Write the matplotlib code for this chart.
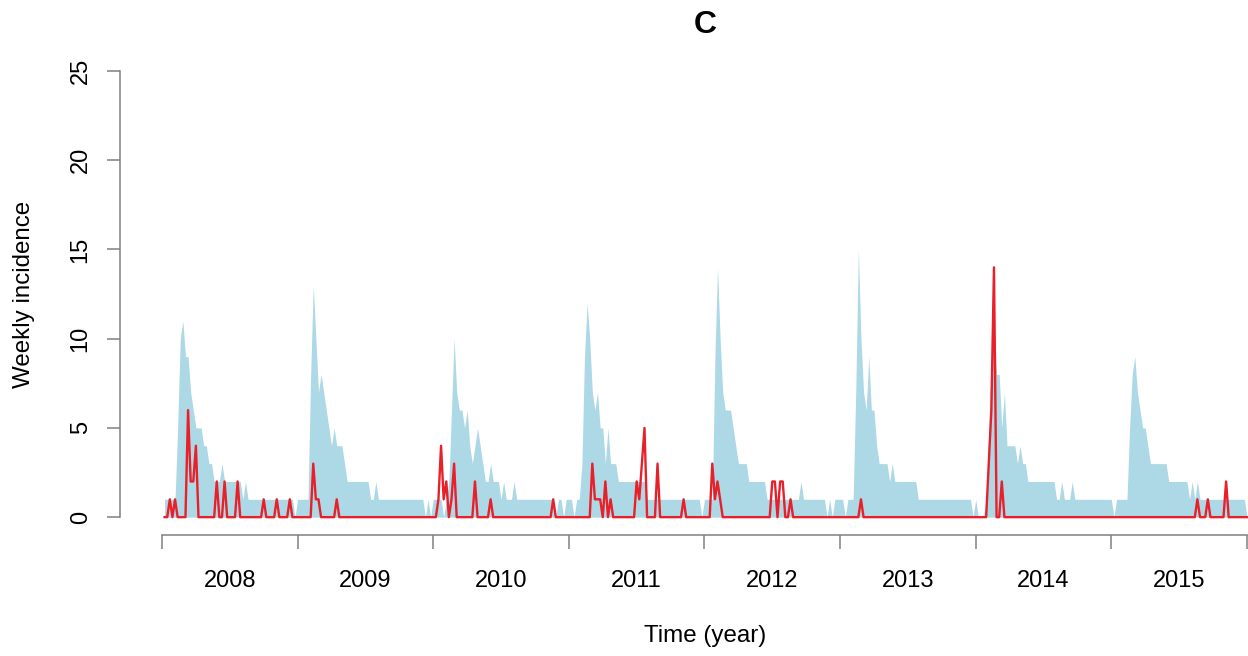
import numpy as np
import matplotlib
matplotlib.use("Agg")
import matplotlib.pyplot as plt

plt.rcParams['font.family'] = ['Liberation Sans', 'DejaVu Sans']

years = ['2008', '2009', '2010', '2011', '2012', '2013', '2014', '2015']

# upper bound of the band (light blue), one value per week
blue_2008 = [1, 1, 1, 1, 1, 5, 10, 11, 9, 9, 7, 6, 5, 5, 5, 4, 4, 3, 3, 2,
             2, 2, 3, 2, 2, 2, 2, 2, 2, 2, 1, 2, 1, 1, 1, 1, 1, 1, 1, 1,
             1, 1, 1, 1, 1, 1, 1, 1, 1, 1, 0, 1]
blue_2009 = [1, 1, 1, 1, 8, 13, 10, 7, 8, 7, 6, 5, 4, 5, 4, 4, 4, 3, 2, 2,
             2, 2, 2, 2, 2, 2, 2, 1, 1, 2, 1, 1, 1, 1, 1, 1, 1, 1, 1, 1,
             1, 1, 1, 1, 1, 1, 1, 1, 0, 1, 0, 1]
blue_2010 = [1, 1, 1, 0, 1, 2, 6, 10, 7, 6, 6, 5, 6, 4, 3, 4, 5, 4, 3, 2,
             2, 3, 2, 2, 2, 1, 2, 1, 1, 1, 2, 1, 1, 1, 1, 1, 1, 1, 1, 1,
             1, 1, 1, 1, 1, 1, 0, 1, 1, 0, 1, 1]
blue_2011 = [1, 0, 1, 1, 3, 9, 12, 10, 7, 6, 7, 5, 5, 3, 5, 3, 3, 3, 2, 2,
             2, 2, 2, 2, 2, 2, 2, 2, 2, 1, 1, 1, 1, 1, 1, 1, 1, 1, 1, 1,
             1, 1, 1, 1, 1, 1, 1, 1, 1, 1, 0, 1]
blue_2012 = [1, 1, 1, 9, 14, 10, 7, 6, 6, 6, 5, 4, 3, 3, 3, 3, 2, 2, 2, 2,
             2, 2, 2, 1, 1, 1, 1, 1, 1, 1, 1, 1, 1, 1, 1, 1, 2, 1, 1, 1,
             1, 1, 1, 1, 1, 1, 0, 1, 0, 1, 1, 1]
blue_2013 = [1, 0, 1, 1, 1, 7, 15, 10, 7, 6, 9, 6, 6, 4, 3, 3, 3, 3, 2, 3,
             2, 2, 2, 2, 2, 2, 2, 2, 2, 1, 1, 1, 1, 1, 1, 1, 1, 1, 1, 1,
             1, 1, 1, 1, 1, 1, 1, 1, 1, 1, 0, 1]
blue_2014 = [0, 0, 0, 1, 5, 9, 11, 8, 8, 5, 7, 4, 4, 4, 4, 3, 4, 3, 3, 2,
             2, 2, 2, 2, 2, 2, 2, 2, 2, 2, 1, 1, 2, 1, 1, 1, 2, 1, 1, 1,
             1, 1, 1, 1, 1, 1, 1, 1, 1, 1, 1, 1]
blue_2015 = [0, 1, 1, 1, 1, 1, 5, 8, 9, 7, 6, 5, 5, 4, 3, 3, 3, 3, 3, 3,
             3, 2, 2, 2, 2, 2, 2, 2, 2, 1, 2, 1, 2, 1, 1, 1, 1, 1, 1, 1,
             1, 1, 1, 1, 1, 1, 1, 1, 1, 1, 1, 0]

# observed weekly incidence (red line)
red_2008 = [0, 0, 1, 0, 1, 0, 0, 0, 0, 6, 2, 2, 4, 0, 0, 0, 0, 0, 0, 0,
            2, 0, 0, 2, 0, 0, 0, 0, 2, 0, 0, 0, 0, 0, 0, 0, 0, 0, 1, 0,
            0, 0, 0, 1, 0, 0, 0, 0, 1, 0, 0, 0]
red_2009 = [0, 0, 0, 0, 0, 3, 1, 1, 0, 0, 0, 0, 0, 0, 1, 0, 0, 0, 0, 0,
            0, 0, 0, 0, 0, 0, 0, 0, 0, 0, 0, 0, 0, 0, 0, 0, 0, 0, 0, 0,
            0, 0, 0, 0, 0, 0, 0, 0, 0, 0, 0, 0]
red_2010 = [0, 1, 4, 1, 2, 0, 1, 3, 0, 0, 0, 0, 0, 0, 0, 2, 0, 0, 0, 0,
            0, 1, 0, 0, 0, 0, 0, 0, 0, 0, 0, 0, 0, 0, 0, 0, 0, 0, 0, 0,
            0, 0, 0, 0, 0, 1, 0, 0, 0, 0, 0, 0]
red_2011 = [0, 0, 0, 0, 0, 0, 0, 0, 3, 1, 1, 1, 0, 2, 0, 1, 0, 0, 0, 0,
            0, 0, 0, 0, 0, 2, 1, 3, 5, 0, 0, 0, 0, 3, 0, 0, 0, 0, 0, 0,
            0, 0, 0, 1, 0, 0, 0, 0, 0, 0, 0, 0]
red_2012 = [0, 0, 3, 1, 2, 1, 0, 0, 0, 0, 0, 0, 0, 0, 0, 0, 0, 0, 0, 0,
            0, 0, 0, 0, 0, 2, 2, 0, 2, 2, 0, 0, 1, 0, 0, 0, 0, 0, 0, 0,
            0, 0, 0, 0, 0, 0, 0, 0, 0, 0, 0, 0]
red_2013 = [0, 0, 0, 0, 0, 0, 0, 1, 0, 0, 0, 0, 0, 0, 0, 0, 0, 0, 0, 0,
            0, 0, 0, 0, 0, 0, 0, 0, 0, 0, 0, 0, 0, 0, 0, 0, 0, 0, 0, 0,
            0, 0, 0, 0, 0, 0, 0, 0, 0, 0, 0, 0]
red_2014 = [0, 0, 0, 0, 3, 6, 14, 0, 0, 2, 0, 0, 0, 0, 0, 0, 0, 0, 0, 0,
            0, 0, 0, 0, 0, 0, 0, 0, 0, 0, 0, 0, 0, 0, 0, 0, 0, 0, 0, 0,
            0, 0, 0, 0, 0, 0, 0, 0, 0, 0, 0, 0]
red_2015 = [0, 0, 0, 0, 0, 0, 0, 0, 0, 0, 0, 0, 0, 0, 0, 0, 0, 0, 0, 0,
            0, 0, 0, 0, 0, 0, 0, 0, 0, 0, 0, 0, 1, 0, 0, 0, 1, 0, 0, 0,
            0, 0, 0, 2, 0, 0, 0, 0, 0, 0, 0, 0]

blue = np.concatenate([blue_2008, blue_2009, blue_2010, blue_2011,
                       blue_2012, blue_2013, blue_2014, blue_2015])
red = np.concatenate([red_2008, red_2009, red_2010, red_2011,
                      red_2012, red_2013, red_2014, red_2015])
weeks = np.arange(1, len(blue) + 1)

W, H = 1248, 656
fig = plt.figure(figsize=(W / 100, H / 100), dpi=100)
ax = fig.add_axes([120 / W, 1 - 535 / H, (W - 120) / W, (535 - 53.2) / H])

ax.fill_between(weeks, 0, blue, color='#add8e6', lw=0)
ax.plot(weeks, red, color='#e8202a', lw=1.7)

ax.set_xlim(-16.1, 416.4)
ax.set_ylim(-1, 26)

grey = '#808080'
for s in ['top', 'right']:
    ax.spines[s].set_visible(False)
ax.spines['left'].set_bounds(0, 25)
ax.spines['bottom'].set_bounds(0, 416)
for s in ['left', 'bottom']:
    ax.spines[s].set_color(grey)
    ax.spines[s].set_linewidth(1.1)

ax.set_yticks([0, 5, 10, 15, 20, 25])
ax.tick_params(axis='y', length=9.4, width=1.1, color=grey, labelsize=17,
               pad=11)
for lab in ax.get_yticklabels():
    lab.set_rotation(90)
    lab.set_va('center')

ax.set_xticks(np.arange(0, 417, 52))
ax.set_xticklabels([])
ax.tick_params(axis='x', which='major', length=10, width=1.1, color=grey)
ax.set_xticks(np.arange(26, 416, 52), minor=True)
ax.set_xticklabels(years, minor=True)
ax.tick_params(axis='x', which='minor', length=0, labelsize=17, pad=25)

fig.text(705 / W, 1 - 636 / H, 'Time (year)', ha='center', va='center',
         fontsize=17.4)
fig.text(24 / W, 1 - 294 / H, 'Weekly incidence', ha='center', va='center',
         rotation=90, fontsize=17.4)
fig.text(705 / W, 1 - 25 / H, 'C', ha='center', va='center',
         fontsize=23, fontweight='bold')

fig.savefig('out.png', dpi=100)
